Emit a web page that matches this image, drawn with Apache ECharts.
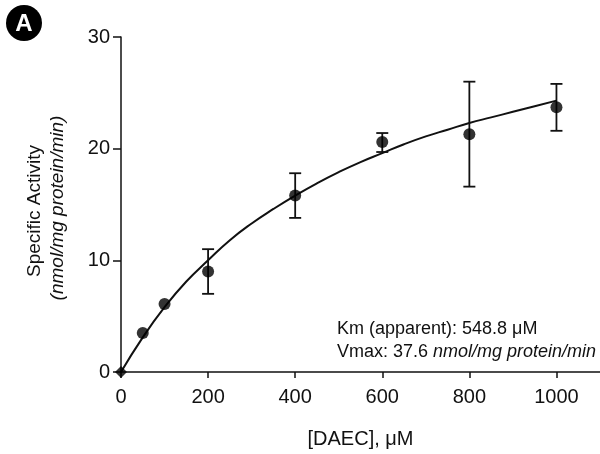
<!DOCTYPE html>
<html>
<head>
<meta charset="utf-8">
<script src="https://cdn.jsdelivr.net/npm/echarts@6/dist/echarts.min.js"></script>
<style>html,body{margin:0;padding:0;background:#fff}#c{width:600px;height:454px}</style>
</head>
<body>
<div id="c"></div>
<script>
// Measured points
var concX = [0, 50, 100, 200, 400, 600, 800, 1000];
var activity = [0, 3.5, 6.1, 9.0, 15.8, 20.6, 21.3, 23.7];
var errLow = [null, null, null, 7.0, 13.8, 19.7, 16.6, 21.6];
var errHigh = [null, null, null, 11.0, 17.8, 21.4, 26.0, 25.8];
// Fitted curve
var curveX = [0, 50, 100, 150, 200, 250, 300, 350, 400, 450, 500, 550, 600, 650, 700, 750, 800, 850, 900, 950, 1000];
var curveY = [0, 3.1, 5.8, 8.1, 10.0, 11.8, 13.3, 14.6, 15.8, 16.9, 17.9, 18.8, 19.6, 20.4, 21.1, 21.7, 22.3, 22.8, 23.3, 23.8, 24.3];
var xTicks = [0, 200, 400, 600, 800, 1000];
var yTicks = [0, 10, 20, 30];

var FONT = '"Liberation Sans", Arial, sans-serif';
var pts = concX.map(function (x, i) { return [x, activity[i]]; });
var curve = curveX.map(function (x, i) { return [x, curveY[i]]; });
var errs = [];
concX.forEach(function (x, i) { if (errLow[i] != null) errs.push([x, errLow[i], errHigh[i]]); });

var chart = echarts.init(document.getElementById('c'));
chart.setOption({
  animation: false,
  backgroundColor: '#fff',
  grid: { left: 121, right: 0, top: 37, bottom: 80 },
  xAxis: {
    type: 'value', min: 0, max: 1100, interval: 200,
    name: '[DAEC], \u03bcM', nameLocation: 'middle', nameGap: 57,
    nameTextStyle: { fontFamily: FONT, fontSize: 20, color: '#111' },
    axisLine: { lineStyle: { color: '#111', width: 1.5 } },
    axisTick: { length: 6, lineStyle: { color: '#111', width: 1.5 },
      customValues: xTicks },
    axisLabel: { fontFamily: FONT, fontSize: 20, color: '#111', margin: 15,
      customValues: xTicks, formatter: function (v) { return String(v); } },
    splitLine: { show: false }
  },
  yAxis: {
    type: 'value', min: 0, max: 30, interval: 10,
    axisLine: { show: true, lineStyle: { color: '#111', width: 1.5 } },
    axisTick: { show: true, length: 8, lineStyle: { color: '#111', width: 1.5 },
      customValues: yTicks },
    axisLabel: { fontFamily: FONT, fontSize: 20, color: '#111', margin: 11,
      customValues: yTicks, formatter: function (v) { return String(v); } },
    splitLine: { show: false }
  },
  graphic: [
    { type: 'circle', shape: { cx: 24, cy: 23, r: 18 }, style: { fill: '#000' } },
    { type: 'text', x: 24, y: 24, style: { text: 'A', fill: '#fff', font: 'bold 24px ' + FONT, align: 'center', verticalAlign: 'middle' } },
    { type: 'text', x: 35, y: 211, rotation: Math.PI / 2,
      style: { text: 'Specific Activity', fill: '#111', font: '19px ' + FONT, align: 'center', verticalAlign: 'middle' } },
    { type: 'text', x: 58, y: 208, rotation: Math.PI / 2,
      style: { text: '(nmol/mg protein/min)', fill: '#111', font: 'italic 19px ' + FONT, align: 'center', verticalAlign: 'middle' } },
    { type: 'text', x: 337, y: 329,
      style: { text: 'Km (apparent): 548.8 \u03bcM', fill: '#111', font: '18px ' + FONT, align: 'left', verticalAlign: 'middle' } },
    { type: 'text', x: 337, y: 352,
      style: { rich: { n: { fontFamily: FONT, fontSize: 18, fill: '#111' }, i: { fontFamily: FONT, fontSize: 18, fontStyle: 'italic', fill: '#111' } },
        text: '{n|Vmax: 37.6 }{i|nmol/mg protein/min}', align: 'left', verticalAlign: 'middle' } }
  ],
  series: [
    { type: 'line', data: curve, smooth: true, showSymbol: false, symbol: 'none',
      lineStyle: { color: '#111', width: 2 }, z: 2 },
    { type: 'custom', data: errs, z: 3,
      renderItem: function (params, api) {
        var x = api.value(0);
        var lo = api.coord([x, api.value(1)]);
        var hi = api.coord([x, api.value(2)]);
        var w = 6;
        var st = { stroke: '#111', lineWidth: 1.8 };
        return { type: 'group', children: [
          { type: 'line', shape: { x1: lo[0], y1: lo[1], x2: hi[0], y2: hi[1] }, style: st },
          { type: 'line', shape: { x1: lo[0] - w, y1: lo[1], x2: lo[0] + w, y2: lo[1] }, style: st },
          { type: 'line', shape: { x1: hi[0] - w, y1: hi[1], x2: hi[0] + w, y2: hi[1] }, style: st }
        ] };
      } },
    { type: 'scatter', data: pts,
      symbol: function (v) { return v[0] === 0 ? 'diamond' : 'circle'; },
      symbolSize: 12,
      itemStyle: { color: '#000' }, z: 4 }
  ]
});
</script>
</body>
</html>
